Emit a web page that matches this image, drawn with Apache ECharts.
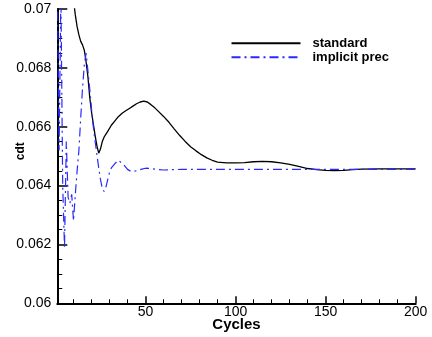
<!DOCTYPE html>
<html>
<head>
<meta charset="utf-8">
<script src="https://cdn.jsdelivr.net/npm/echarts@6/dist/echarts.min.js"></script>
<style>
html,body{margin:0;padding:0;background:#fff;}
#c{width:432px;height:337px;}
</style>
</head>
<body>
<div id="c"></div>
<script>
var seriesNames = ['standard', 'implicit prec'];
var xTickLabels = [50, 100, 150, 200];
var xMinorTicks = [10, 20, 30, 40, 60, 70, 80, 90, 110, 120, 130, 140, 160, 170, 180, 190];

var standardX = [8, 10, 11, 12, 13, 14, 15, 16, 17, 18, 19, 20, 21, 22, 23, 24, 25, 26, 27, 28, 29, 31, 33, 35, 37, 39, 41, 43, 45, 47, 49, 51, 53, 55, 57, 60, 63, 66, 69, 72, 75, 78, 81, 84, 87, 90, 95, 100, 105, 110, 115, 120, 125, 130, 135, 140, 145, 150, 155, 160, 165, 170, 180, 190, 200];
var standardY = [0.0712, 0.0703, 0.0698, 0.0694, 0.06912, 0.0689, 0.06878, 0.0686, 0.0682, 0.0677, 0.0670, 0.0665, 0.0661, 0.0657, 0.06535, 0.0651, 0.06525, 0.0655, 0.06565, 0.06575, 0.06584, 0.06605, 0.0662, 0.06635, 0.06646, 0.06654, 0.06662, 0.0667, 0.06678, 0.06684, 0.06687, 0.06684, 0.06675, 0.06665, 0.06653, 0.06635, 0.06615, 0.06592, 0.0657, 0.0655, 0.06532, 0.06518, 0.06505, 0.06494, 0.06486, 0.0648, 0.06477, 0.06477, 0.06478, 0.06481, 0.06482, 0.06481, 0.06477, 0.06472, 0.06465, 0.06458, 0.06454, 0.06452, 0.06451, 0.06452, 0.06454, 0.06456, 0.06457, 0.06457, 0.06457];

var implicitX = [1, 2, 3, 4, 5, 6, 7, 8, 9, 10, 11, 12, 13, 14, 15, 16, 17, 18, 19, 20, 21, 22, 23, 24, 25, 26, 27, 28, 29, 30, 31, 33, 35, 36, 38, 40, 42, 44, 46, 48, 50, 53, 56, 60, 70, 80, 100, 120, 140, 160, 180, 200];
var implicitY = [0.0712, 0.0652, 0.0705, 0.0640, 0.0619, 0.0655, 0.0636, 0.0634, 0.0637, 0.0628, 0.0637, 0.0645, 0.0652, 0.0663, 0.0673, 0.0681, 0.0685, 0.0679, 0.0673, 0.0666, 0.0660, 0.0655, 0.06505, 0.0646, 0.0642, 0.0639, 0.0638, 0.06395, 0.0642, 0.06445, 0.0646, 0.06475, 0.06486, 0.06487, 0.0647, 0.06455, 0.06448, 0.06449, 0.06452, 0.06456, 0.06459, 0.06458, 0.06455, 0.06453, 0.06455, 0.06455, 0.06455, 0.06455, 0.06455, 0.06455, 0.06455, 0.06455];

function pairs(xs, ys) { return xs.map(function (x, i) { return [x, ys[i]]; }); }

var FONT = 'Liberation Sans';
var chart = echarts.init(document.getElementById('c'), null, {renderer: 'canvas'});
chart.setOption({
  animation: false,
  backgroundColor: '#fff',
  grid: {left: 57.3, right: 16.3, top: 9, bottom: 33.7, containLabel: false, outerBoundsMode: 'none'},
  legend: {
    orient: 'vertical',
    left: 230.5,
    top: 36.3,
    padding: 0,
    itemWidth: 69,
    itemHeight: 10,
    itemGap: 0,
    data: seriesNames,
    itemStyle: {opacity: 0, borderWidth: 0},
    textStyle: {fontFamily: FONT, fontWeight: 'bold', fontSize: 13, lineHeight: 14, color: '#000', padding: [0, 0, 0, 7]}
  },
  xAxis: [{
    type: 'value', min: 1, max: 200,
    name: 'Cycles', nameLocation: 'middle', nameGap: 14, nameMoveOverlap: false,
    nameTextStyle: {fontFamily: FONT, fontWeight: 'bold', fontSize: 15, color: '#000', verticalAlign: 'top'},
    axisLine: {show: true, onZero: false, lineStyle: {color: '#000', width: 2}},
    axisTick: {show: true, inside: true, length: 7, customValues: xTickLabels, lineStyle: {color: '#000', width: 1.5}},
    axisLabel: {show: true, customValues: xTickLabels, margin: 2, fontFamily: FONT, fontSize: 14, color: '#000'},
    splitLine: {show: false}
  }, {
    type: 'value', min: 1, max: 200, gridIndex: 0, position: 'bottom',
    axisLine: {show: false},
    axisTick: {show: true, inside: true, length: 4, customValues: xMinorTicks, lineStyle: {color: '#000', width: 1}},
    axisLabel: {show: false},
    splitLine: {show: false}
  }],
  yAxis: {
    type: 'value', min: 0.06, max: 0.07, interval: 0.002,
    name: 'cdt', nameLocation: 'middle', nameGap: 31, nameRotate: 90, nameMoveOverlap: false,
    nameTextStyle: {fontFamily: FONT, fontWeight: 'bold', fontSize: 12, color: '#000', padding: [0, 0, 0, 10]},
    axisLine: {show: true, onZero: false, lineStyle: {color: '#000', width: 2}},
    axisTick: {show: true, inside: true, length: 10, lineStyle: {color: '#000', width: 1.5}},
    minorTick: {show: true, splitNumber: 4, length: 5, lineStyle: {color: '#000', width: 1}},
    axisLabel: {margin: 6, fontFamily: FONT, fontSize: 14, color: '#000'},
    splitLine: {show: false}
  },
  series: [{
    name: seriesNames[0], type: 'line', xAxisIndex: 0, symbol: 'none', smooth: false, clip: true,
    data: pairs(standardX, standardY),
    lineStyle: {color: '#000', width: 1.3},
    itemStyle: {color: '#000'}
  }, {
    name: seriesNames[1], type: 'line', xAxisIndex: 0, symbol: 'none', smooth: false, clip: true,
    data: pairs(implicitX, implicitY),
    lineStyle: {color: '#2a2aff', width: 1.2, type: [9, 4, 2, 4]},
    itemStyle: {color: '#2a2aff'}
  }]
});
</script>
</body>
</html>
